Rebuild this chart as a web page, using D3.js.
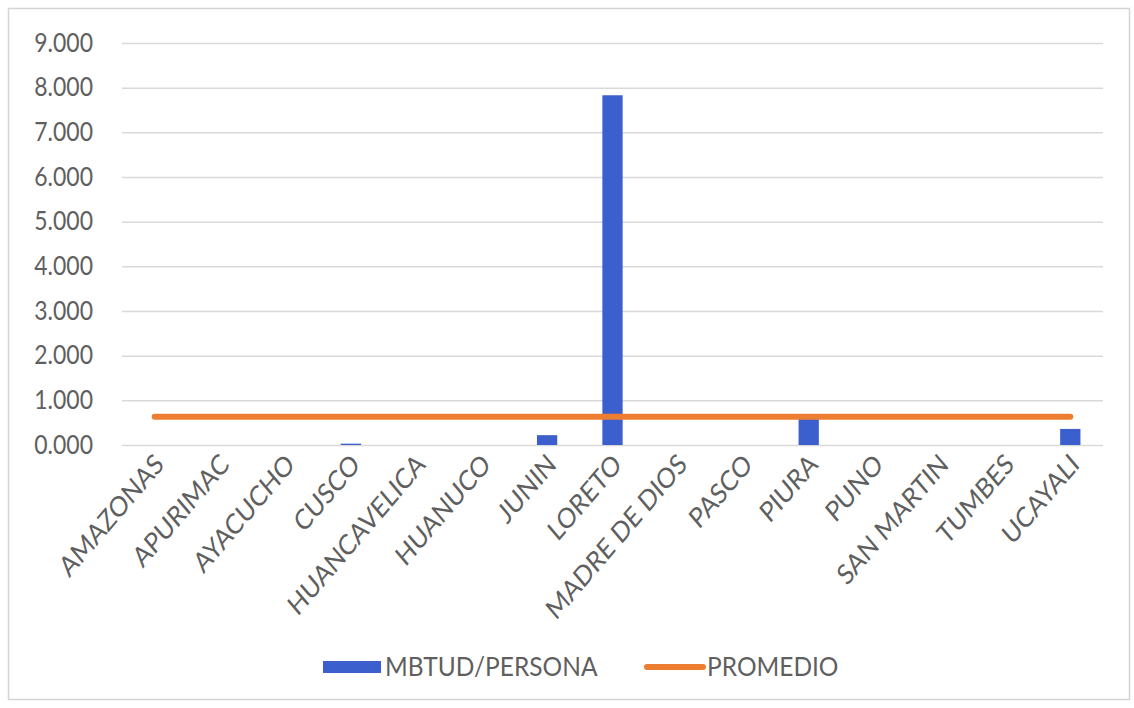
<!DOCTYPE html>
<html>
<head>
<meta charset="utf-8">
<script src="https://cdn.jsdelivr.net/npm/d3@7"></script>
<style>
  html, body { margin: 0; padding: 0; background: #fff; }
  svg { display: block; }
</style>
</head>
<body>
<svg id="chart" width="1134" height="708"></svg>
<script>
// Regions and per-capita energy consumption (MBTUD per person)
const regions = ["AMAZONAS", "APURIMAC", "AYACUCHO", "CUSCO", "HUANCAVELICA", "HUANUCO",
  "JUNIN", "LORETO", "MADRE DE DIOS", "PASCO", "PIURA", "PUNO", "SAN MARTIN", "TUMBES", "UCAYALI"];
const mbtudPersona = [0, 0, 0, 0.03, 0, 0, 0.22, 7.83, 0, 0, 0.58, 0, 0, 0, 0.36];
const promedio = [0.63, 0.63, 0.63, 0.63, 0.63, 0.63, 0.63, 0.63, 0.63, 0.63, 0.63, 0.63, 0.63, 0.63, 0.63];
const yTicks = [0, 1, 2, 3, 4, 5, 6, 7, 8, 9];
const seriesNames = ["MBTUD/PERSONA", "PROMEDIO"];

const barColor = "#3b5fcc";
const lineColor = "#ed7d31";
const textColor = "#5f5f5f";
const font = "Lato, 'Open Sans', sans-serif";

const svg = d3.select("#chart");

// Outer chart frame
svg.append("rect")
  .attr("x", 8.5).attr("y", 8.5)
  .attr("width", 1121).attr("height", 691)
  .attr("fill", "#fff")
  .attr("stroke", "#d4d4d4")
  .attr("stroke-width", 1.5);

const plot = { left: 122, right: 1103, top: 43, bottom: 445 };

const x = d3.scaleBand()
  .domain(regions)
  .range([plot.left, plot.right])
  .paddingInner(0.69)
  .paddingOuter(0.345);

const xc = d3.scalePoint()
  .domain(regions)
  .range([plot.left, plot.right])
  .padding(0.5);

const y = d3.scaleLinear()
  .domain([0, 9])
  .range([plot.bottom, plot.top]);

// Horizontal gridlines and value labels
const yAxis = d3.axisLeft(y)
  .tickValues(yTicks)
  .tickSize(-(plot.right - plot.left))
  .tickPadding(29)
  .tickFormat(d => d3.format(".3f")(d));

const gy = svg.append("g")
  .attr("transform", `translate(${plot.left},0)`)
  .call(yAxis)
  .attr("font-family", font);
gy.select(".domain").remove();
gy.selectAll(".tick line").attr("stroke", "#d9d9d9").attr("stroke-width", 1.5);
gy.selectAll(".tick text")
  .attr("fill", textColor)
  .attr("font-size", 23)
  .attr("dy", 0)
  .attr("transform", "translate(0,8) scale(1,1.15)");

// Bars
svg.append("g")
  .selectAll("rect")
  .data(regions)
  .join("rect")
  .attr("x", d => x(d))
  .attr("width", x.bandwidth())
  .attr("y", (d, i) => y(mbtudPersona[i]))
  .attr("height", (d, i) => y(0) - y(mbtudPersona[i]))
  .attr("fill", barColor);

// Average line
const line = d3.line()
  .x((d, i) => xc(regions[i]))
  .y(d => y(d));

svg.append("path")
  .datum(promedio)
  .attr("d", line)
  .attr("fill", "none")
  .attr("stroke", lineColor)
  .attr("stroke-width", 6)
  .attr("stroke-linecap", "round");

// Category labels, rotated
const xAxis = d3.axisBottom(xc).tickSize(0).tickPadding(0);
const gx = svg.append("g")
  .attr("transform", `translate(0,${plot.bottom})`)
  .call(xAxis)
  .attr("font-family", font);
gx.select(".domain").remove();
gx.selectAll(".tick text")
  .attr("fill", textColor)
  .attr("font-size", 24)
  .attr("text-anchor", "end")
  .attr("dy", 0)
  .attr("transform", "translate(10,21) scale(1,1.17) rotate(-45)");

// Legend
const legend = svg.append("g").attr("font-family", font).attr("font-size", 24.5).attr("fill", textColor);
legend.append("rect")
  .attr("x", 323).attr("y", 661)
  .attr("width", 58).attr("height", 12)
  .attr("fill", barColor);
legend.append("text")
  .attr("transform", "translate(385,676) scale(1,1.1)")
  .text(seriesNames[0]);
legend.append("line")
  .attr("x1", 647).attr("x2", 703)
  .attr("y1", 667).attr("y2", 667)
  .attr("stroke", lineColor)
  .attr("stroke-width", 6)
  .attr("stroke-linecap", "round");
legend.append("text")
  .attr("transform", "translate(707,676) scale(1,1.1)")
  .text(seriesNames[1]);
</script>
</body>
</html>
